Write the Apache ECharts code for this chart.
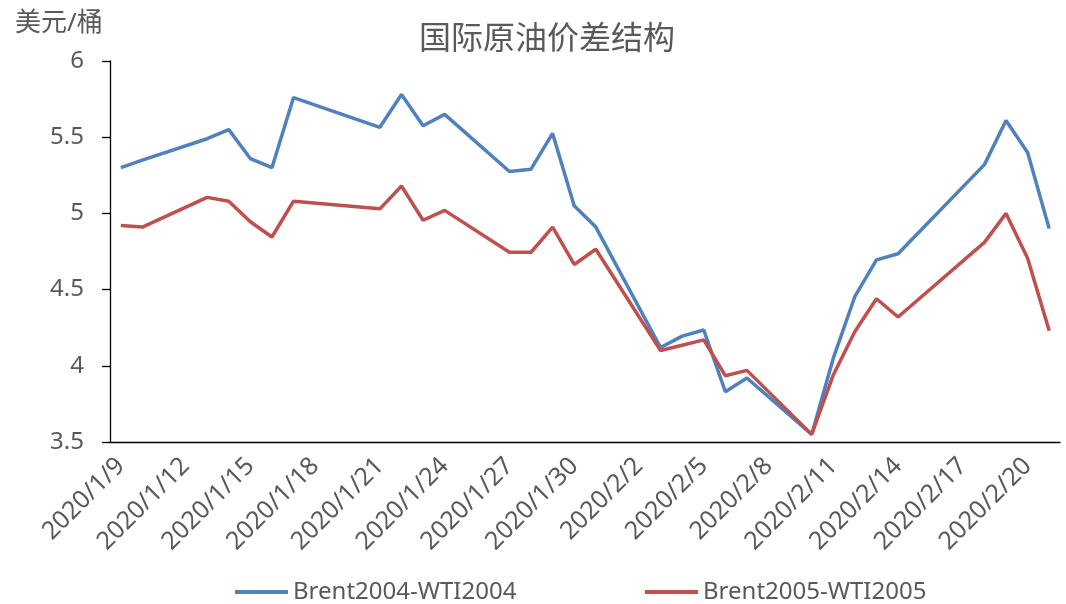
<!DOCTYPE html>
<html>
<head>
<meta charset="utf-8">
<script src="https://cdn.jsdelivr.net/npm/echarts@6/dist/echarts.min.js"></script>
<style>
  html, body { margin: 0; padding: 0; background: #fff; }
  #main { width: 1066px; height: 604px; }
</style>
</head>
<body>
<div id="main"></div>
<script>
        var myChart = echarts.init(document.getElementById('main'));

        // 日期轴（每天一格）
        var days = [
            '2020/1/9', '2020/1/10', '2020/1/11', '2020/1/12', '2020/1/13', '2020/1/14', '2020/1/15',
            '2020/1/16', '2020/1/17', '2020/1/18', '2020/1/19', '2020/1/20', '2020/1/21', '2020/1/22',
            '2020/1/23', '2020/1/24', '2020/1/25', '2020/1/26', '2020/1/27', '2020/1/28', '2020/1/29',
            '2020/1/30', '2020/1/31', '2020/2/1', '2020/2/2', '2020/2/3', '2020/2/4', '2020/2/5',
            '2020/2/6', '2020/2/7', '2020/2/8', '2020/2/9', '2020/2/10', '2020/2/11', '2020/2/12',
            '2020/2/13', '2020/2/14', '2020/2/15', '2020/2/16', '2020/2/17', '2020/2/18', '2020/2/19',
            '2020/2/20', '2020/2/21'
        ];

        // 交易日
        var tradeDays = [
            '2020/1/9', '2020/1/10', '2020/1/13', '2020/1/14', '2020/1/15', '2020/1/16', '2020/1/17',
            '2020/1/21', '2020/1/22', '2020/1/23', '2020/1/24', '2020/1/27', '2020/1/28', '2020/1/29',
            '2020/1/30', '2020/1/31', '2020/2/3', '2020/2/4', '2020/2/5', '2020/2/6', '2020/2/7',
            '2020/2/10', '2020/2/11', '2020/2/12', '2020/2/13', '2020/2/14', '2020/2/18', '2020/2/19',
            '2020/2/20', '2020/2/21'
        ];

        var spread04 = [
            5.30, 5.35, 5.49, 5.55, 5.36, 5.30, 5.76,
            5.565, 5.78, 5.575, 5.65, 5.275, 5.29, 5.525,
            5.05, 4.91, 4.12, 4.195, 4.235, 3.83, 3.92,
            3.55, 4.05, 4.455, 4.695, 4.735, 5.32, 5.61,
            5.40, 4.90
        ];

        var spread05 = [
            4.92, 4.91, 5.105, 5.08, 4.945, 4.845, 5.08,
            5.03, 5.18, 4.955, 5.02, 4.745, 4.745, 4.91,
            4.665, 4.765, 4.10, 4.135, 4.17, 3.935, 3.97,
            3.55, 3.94, 4.225, 4.44, 4.32, 4.81, 5.00,
            4.705, 4.23
        ];

        var seriesNames = ['Brent2004-WTI2004', 'Brent2005-WTI2005'];
        var colors = ['#4F81BD', '#C0504D'];

        function pairs(vals) {
            return tradeDays.map(function (d, i) { return [d, vals[i]]; });
        }

        var font = "'Noto Sans', 'Noto Sans CJK SC', sans-serif";
        var textColor = '#595959';

        var option = {
            backgroundColor: '#fff',
            animation: false,
            textStyle: { fontFamily: font },
            title: [
                {
                    text: '国际原油价差结构',
                    left: 414,
                    top: 19,
                    textStyle: { color: textColor, fontSize: 32, fontWeight: 'normal', fontFamily: font }
                },
                {
                    text: '美元/桶',
                    left: 10,
                    top: 6,
                    textStyle: { color: textColor, fontSize: 26, fontWeight: 'normal', fontFamily: font }
                }
            ],
            legend: [
                {
                    data: [seriesNames[0]],
                    left: 230,
                    top: 575,
                    itemWidth: 53,
                    itemHeight: 4,
                    icon: 'rect',
                    textStyle: { color: textColor, fontSize: 24, fontFamily: font }
                },
                {
                    data: [seriesNames[1]],
                    left: 640,
                    top: 575,
                    itemWidth: 53,
                    itemHeight: 4,
                    icon: 'rect',
                    textStyle: { color: textColor, fontSize: 24, fontFamily: font }
                }
            ],
            grid: {
                left: 110,
                right: 6,
                top: 61,
                bottom: 162,
                containLabel: false
            },
            xAxis: {
                type: 'category',
                data: days,
                boundaryGap: true,
                axisLine: { lineStyle: { color: '#000', width: 1.3 } },
                axisTick: { interval: 2, length: 8, lineStyle: { color: '#000', width: 1.3 } },
                axisLabel: {
                    interval: 2,
                    rotate: 45,
                    margin: 20,
                    color: textColor,
                    fontSize: 25,
                    fontFamily: font
                },
                splitLine: { show: false }
            },
            yAxis: {
                type: 'value',
                min: 3.5,
                max: 6,
                interval: 0.5,
                axisLine: { show: true, lineStyle: { color: '#000', width: 1.3 } },
                axisTick: { show: true, length: 8, lineStyle: { color: '#000', width: 1.3 } },
                axisLabel: { color: textColor, fontSize: 24, margin: 26, fontFamily: font },
                splitLine: { show: false }
            },
            series: [
                {
                    name: seriesNames[0],
                    type: 'line',
                    data: pairs(spread04),
                    symbol: 'none',
                    itemStyle: { color: colors[0] },
                    lineStyle: { color: colors[0], width: 3.5 }
                },
                {
                    name: seriesNames[1],
                    type: 'line',
                    data: pairs(spread05),
                    symbol: 'none',
                    itemStyle: { color: colors[1] },
                    lineStyle: { color: colors[1], width: 3.5 }
                }
            ]
        };
        myChart.setOption(option);
</script>
</body>
</html>
